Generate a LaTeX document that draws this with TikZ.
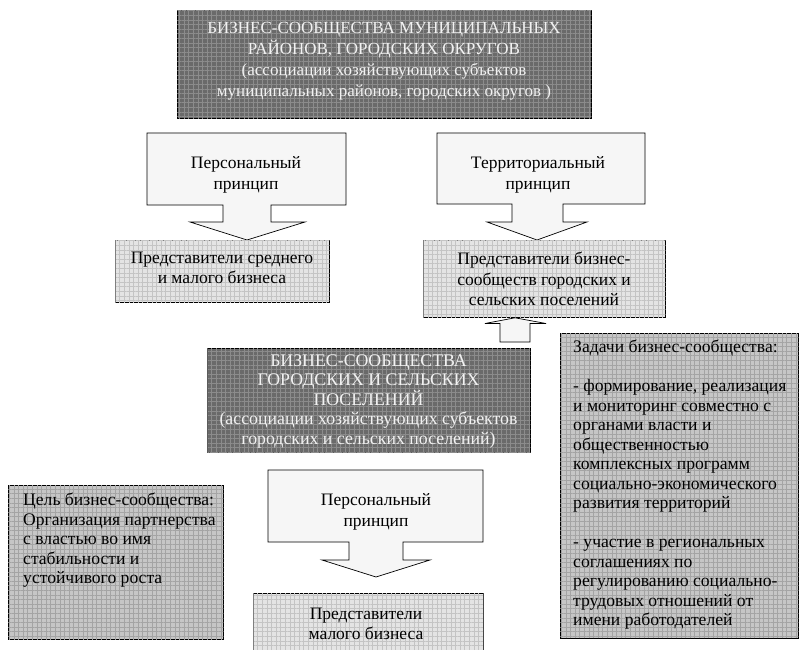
\documentclass[tikz,border=0pt]{standalone}
\usepackage{fontspec}
\setmainfont{Liberation Serif}
\usetikzlibrary{patterns.meta}

\definecolor{darkbase}{HTML}{6A6A6A}
\definecolor{darkgrid}{HTML}{8C8C8C}
\definecolor{lightbase}{HTML}{E4E4E4}
\definecolor{lightgrid}{HTML}{C4C4C4}
\definecolor{midbase}{HTML}{C6C6C6}
\definecolor{midgrid}{HTML}{A4A4A4}
\definecolor{calloutfill}{HTML}{F6F6F6}
\definecolor{titletext}{HTML}{F2F2F2}

\tikzset{
  gridfill/.style 2 args={fill=#1,
    postaction={pattern={Hatch[angle=0,distance=4.6pt,line width=0.55pt]}, pattern color=#2}},
  panel/.style={draw=black, line width=0.8pt, inner sep=0pt, anchor=north west},
  darkpanel/.style={panel, gridfill={darkbase}{darkgrid}},
  lightpanel/.style={panel, gridfill={lightbase}{lightgrid}},
  midpanel/.style={panel, gridfill={midbase}{midgrid}},
  callout/.style={draw=black, line width=0.7pt, fill=calloutfill, line join=miter},
  txt/.style={inner sep=0pt, align=center, font=\fontsize{17.5}{20.5}\selectfont},
  titletxt/.style={txt, text=titletext},
  lefttxt/.style={inner sep=0pt, align=left, anchor=north west,
    font=\fontsize{17.6}{19.5}\selectfont},
}

\begin{document}
\begin{tikzpicture}[x=1pt,y=-1pt]
\clip (0,0) rectangle (800,650);
\fill[white] (0,0) rectangle (800,650);

% municipal business community
\node[darkpanel, minimum width=414pt, minimum height=108pt] (mun) at (177,10) {};
\node[titletxt, font=\fontsize{17}{21}\selectfont] (muntext) at (384,61)
  {БИЗНЕС-СООБЩЕСТВА МУНИЦИПАЛЬНЫХ\\РАЙОНОВ, ГОРОДСКИХ ОКРУГОВ\\(ассоциации хозяйствующих субъектов\\муниципальных районов, городских округов )};

% personal principle (upper)
\draw[callout] (147,133) -- (346,133) -- (346,205) -- (271,205) -- (271,222)
  -- (305,222) -- (247,240) -- (190,222) -- (223,222) -- (223,205) -- (147,205) -- cycle;
\node[txt] (pers1) at (246,175) {Персональный\\принцип};

% territorial principle
\draw[callout] (437,133) -- (645,133) -- (645,204) -- (563,204) -- (563,222)
  -- (587,222) -- (537,240) -- (487,222) -- (512,222) -- (512,204) -- (437,204) -- cycle;
\node[txt] (terr) at (538,175) {Территориальный\\принцип};

% representatives, upper row
\node[lightpanel, minimum width=214pt, minimum height=62pt] (repA) at (115,240) {};
\node[txt] (repAtext) at (222,268) {Представители среднего\\и малого бизнеса};

\node[lightpanel, minimum width=242pt, minimum height=77pt] (repB) at (423,240) {};
\node[txt] (repBtext) at (544,279) {Представители бизнес-\\сообществ городских и\\сельских поселений};

% upward arrow into repB
\draw[callout] (repB.south -| 515,0) -- (546,323.5) -- (530,323.5) -- (530,342)
  -- (500,342) -- (500,323.5) -- (485,323.5) -- cycle;

% urban and rural business community
\node[darkpanel, minimum width=323pt, minimum height=104pt] (loc) at (207,348) {};
\node[titletxt, font=\fontsize{17.8}{19.5}\selectfont] (loctext) at (368.5,401)
  {БИЗНЕС-СООБЩЕСТВА\\ГОРОДСКИХ И СЕЛЬСКИХ\\ПОСЕЛЕНИЙ\\(ассоциации хозяйствующих субъектов\\городских и сельских поселений)};

% tasks
\node[midpanel, minimum width=238pt, minimum height=305pt] (tasks) at (560,333) {};
\node[lefttxt] (taskstext) at ([shift={(13,7)}]tasks.north west)
  {Задачи бизнес-сообщества:\\[19.5pt]
   - формирование, реализация\\и мониторинг совместно с\\органами власти и\\общественностью\\комплексных программ\\социально-экономического\\развития территорий\\[19.5pt]
   - участие в региональных\\соглашениях по\\регулированию социально-\\трудовых отношений от\\имени работодателей};

% goal
\node[midpanel, minimum width=215pt, minimum height=154pt] (goal) at (8,485) {};
\node[lefttxt] (goaltext) at ([shift={(15,8)}]goal.north west)
  {Цель бизнес-сообщества:\\Организация партнерства\\с властью во имя\\стабильности и\\устойчивого роста};

% personal principle (lower)
\draw[callout] (268,470) -- (483,470) -- (483,542) -- (403,542) -- (403,560)
  -- (430,560) -- (376,577) -- (322,560) -- (349,560) -- (349,542) -- (268,542) -- cycle;
\node[txt] (pers2) at (376,512) {Персональный\\принцип};

% small business representatives
\node[lightpanel, minimum width=230pt, minimum height=70pt] (repC) at (253,593) {};
\node[txt] (repCtext) at (366,624) {Представители\\малого бизнеса};
\end{tikzpicture}
\end{document}
